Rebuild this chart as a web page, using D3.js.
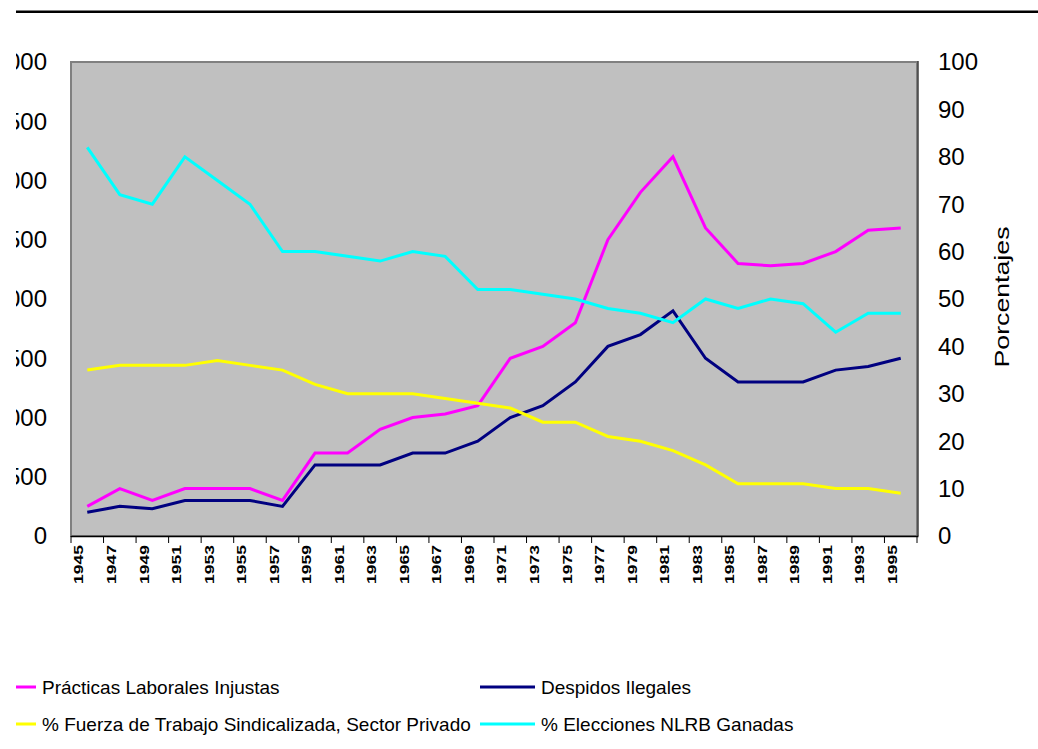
<!DOCTYPE html>
<html>
<head>
<meta charset="utf-8">
<script src="https://cdn.jsdelivr.net/npm/d3@7"></script>
<style>
  body { margin: 0; background: #fff; }
  svg { display: block; font-family: "Liberation Sans", Arial, sans-serif; }
</style>
</head>
<body>
<div id="chart"></div>
<script>
// categories
const years = ["1945", "1947", "1949", "1951", "1953", "1955", "1957", "1959", "1961", "1963",
  "1965", "1967", "1969", "1971", "1973", "1975", "1977", "1979", "1981", "1983",
  "1985", "1987", "1989", "1991", "1993", "1995"];

// left axis series (counts)
const practicas = [250, 400, 300, 400, 400, 400, 300, 700, 700, 900,
  1000, 1030, 1100, 1500, 1600, 1800, 2500, 2900, 3200, 2600,
  2300, 2280, 2300, 2400, 2580, 2600];
const despidos = [200, 250, 230, 300, 300, 300, 250, 600, 600, 600,
  700, 700, 800, 1000, 1100, 1300, 1600, 1700, 1900, 1500,
  1300, 1300, 1300, 1400, 1430, 1500];

// right axis series (percent)
const fuerza = [35, 36, 36, 36, 37, 36, 35, 32, 30, 30,
  30, 29, 28, 27, 24, 24, 21, 20, 18, 15,
  11, 11, 11, 10, 10, 9];
const elecciones = [82, 72, 70, 80, 75, 70, 60, 60, 59, 58,
  60, 59, 52, 52, 51, 50, 48, 47, 45, 50,
  48, 50, 49, 43, 47, 47];

const leftTicks = [0, 500, 1000, 1500, 2000, 2500, 3000, 3500, 4000];
const rightTicks = [0, 10, 20, 30, 40, 50, 60, 70, 80, 90, 100];

const series = [
  { name: "Prácticas Laborales Injustas", values: practicas, axis: "left", color: "#FF00FF" },
  { name: "Despidos Ilegales", values: despidos, axis: "left", color: "#000080" },
  { name: "% Fuerza de Trabajo Sindicalizada, Sector Privado", values: fuerza, axis: "right", color: "#FFFF00" },
  { name: "% Elecciones NLRB Ganadas", values: elecciones, axis: "right", color: "#00FFFF" }
];

const width = 1038, height = 749;
const plot = { left: 71, right: 917, top: 62, bottom: 536 };

const svg = d3.select("#chart").append("svg")
  .attr("width", width)
  .attr("height", height);

// the source picture is cut on the left
svg.append("clipPath").attr("id", "crop")
  .append("rect").attr("x", 16).attr("y", 0).attr("width", width - 16).attr("height", height);

const root = svg.append("g").attr("clip-path", "url(#crop)");

// top rule
root.append("rect")
  .attr("x", 0).attr("y", 10.5).attr("width", width).attr("height", 2.5)
  .attr("fill", "#000");

const x = d3.scaleBand()
  .domain(years)
  .range([plot.left, plot.right])
  .padding(0);

const yLeft = d3.scaleLinear().domain([0, 4000]).range([plot.bottom, plot.top]);
const yRight = d3.scaleLinear().domain([0, 100]).range([plot.bottom, plot.top]);

// plot area
root.append("rect")
  .attr("x", plot.left).attr("y", plot.top)
  .attr("width", plot.right - plot.left).attr("height", plot.bottom - plot.top)
  .attr("fill", "#C0C0C0")
  .attr("stroke", "#808080")
  .attr("stroke-width", 2);
root.append("line")
  .attr("x1", plot.right + 1).attr("x2", plot.right + 1)
  .attr("y1", plot.top - 1).attr("y2", plot.bottom)
  .attr("stroke", "#404040").attr("stroke-width", 1.5);

// x axis: line + ticks at category boundaries
root.append("line")
  .attr("x1", plot.left).attr("x2", plot.right + 1.5)
  .attr("y1", plot.bottom + 0.5).attr("y2", plot.bottom + 0.5)
  .attr("stroke", "#000").attr("stroke-width", 1.5);

const boundaries = years.map(d => x(d)).concat([x(years[years.length - 1]) + x.bandwidth()]);
root.selectAll(".xtick")
  .data(boundaries)
  .enter().append("line")
  .attr("class", "xtick")
  .attr("x1", d => d).attr("x2", d => d)
  .attr("y1", plot.bottom).attr("y2", plot.bottom + 7)
  .attr("stroke", "#000").attr("stroke-width", 1);

root.selectAll(".xlabel")
  .data(years)
  .enter().append("text")
  .attr("class", "xlabel")
  .attr("transform", d => "translate(" + (x(d) + x.bandwidth() / 2 - 8) + "," + 545 + ") rotate(-90)")
  .attr("text-anchor", "end")
  .attr("dy", "0.35em")
  .attr("font-size", 12)
  .attr("font-weight", "bold")
  .attr("textLength", 39)
  .attr("lengthAdjust", "spacingAndGlyphs")
  .attr("fill", "#000")
  .text(d => d);

// left axis labels
root.selectAll(".ylabel")
  .data(leftTicks)
  .enter().append("text")
  .attr("class", "ylabel")
  .attr("x", 47)
  .attr("y", d => yLeft(d))
  .attr("dy", "0.35em")
  .attr("text-anchor", "end")
  .attr("font-size", 24)
  .attr("fill", "#000")
  .text(d => d);

// right axis labels
root.selectAll(".rlabel")
  .data(rightTicks)
  .enter().append("text")
  .attr("class", "rlabel")
  .attr("x", 938)
  .attr("y", d => yRight(d))
  .attr("dy", "0.35em")
  .attr("font-size", 24)
  .attr("fill", "#000")
  .text(d => d);

root.append("text")
  .attr("transform", "translate(1009,297) rotate(-90)")
  .attr("text-anchor", "middle")
  .attr("font-size", 21)
  .attr("textLength", 141)
  .attr("lengthAdjust", "spacingAndGlyphs")
  .attr("fill", "#000")
  .text("Porcentajes");

// lines
series.forEach(function (s) {
  const yScale = s.axis === "left" ? yLeft : yRight;
  const line = d3.line()
    .x((d, i) => x(years[i]) + x.bandwidth() / 2)
    .y(d => yScale(d));
  root.append("path")
    .datum(s.values)
    .attr("d", line)
    .attr("fill", "none")
    .attr("stroke", s.color)
    .attr("stroke-width", 3)
    .attr("stroke-linejoin", "miter");
});

// legend
const legendPos = [
  { lx: -19, ly: 687 },
  { lx: 480, ly: 687 },
  { lx: -19, ly: 724 },
  { lx: 480, ly: 724 }
];
const legend = root.selectAll(".legend")
  .data(series)
  .enter().append("g")
  .attr("class", "legend")
  .attr("transform", (d, i) => "translate(" + legendPos[i].lx + "," + legendPos[i].ly + ")");

legend.append("line")
  .attr("x1", 0).attr("x2", 55)
  .attr("y1", 0).attr("y2", 0)
  .attr("stroke", d => d.color)
  .attr("stroke-width", 3);

legend.append("text")
  .attr("x", 61)
  .attr("y", 6.5)
  .attr("font-size", 19)
  .attr("fill", "#000")
  .text(d => d.name);
</script>
</body>
</html>
